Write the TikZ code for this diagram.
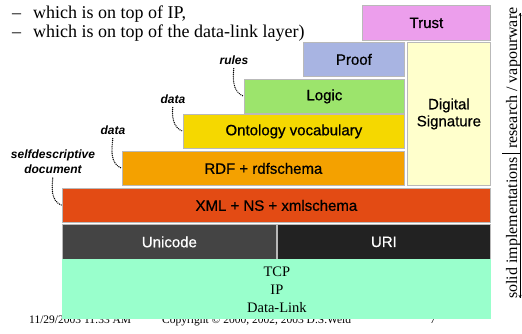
\documentclass[tikz,border=0pt]{standalone}
\usepackage{fontspec}
\setmainfont{Liberation Serif}
\newfontfamily\arialfont{Liberation Sans}
\newfontfamily\boxfont[BoldFont=Liberation Sans,BoldFeatures={FakeBold=0.6}]{Liberation Sans}
\definecolor{trustcol}{HTML}{EC9EEC}
\definecolor{proofcol}{HTML}{A8B4E2}
\definecolor{logiccol}{HTML}{9CE46C}
\definecolor{ontocol}{HTML}{F5D800}
\definecolor{rdfcol}{HTML}{F4A100}
\definecolor{xmlcol}{HTML}{E34B14}
\definecolor{unicol}{HTML}{444444}
\definecolor{uricol}{HTML}{222222}
\definecolor{netcol}{HTML}{99FFCC}
\definecolor{sigcol}{HTML}{FFFFCC}
\tikzset{layer/.style={draw=gray!55,line width=0.8pt,inner sep=0,anchor=north west,align=center,
    font=\boxfont\bfseries\fontsize{15}{17}\selectfont}}
\tikzset{tag/.style={inner sep=1pt,align=center,font=\arialfont\bfseries\itshape\fontsize{12}{15}\selectfont}}
\tikzset{leader/.style={dash pattern=on 0pt off 1.9pt,line width=1.4pt,line cap=round,shorten <=3pt}}

\begin{document}
\begin{tikzpicture}[x=1pt,y=-1pt]
    \useasboundingbox (0,0) rectangle (522,334);
    % bullet lines at the top
    \node[anchor=base west,inner sep=0,font=\fontsize{18}{18}\selectfont] (dash1) at (12,19) {--};
    \node[anchor=base west,inner sep=0,font=\fontsize{18}{18}\selectfont] (line1) at (33,19) {which is on top of IP,};
    \node[anchor=base west,inner sep=0,font=\fontsize{18}{18}\selectfont] (dash2) at (12,38) {--};
    \node[anchor=base west,inner sep=0,font=\fontsize{18}{18}\selectfont] (line2) at (33,38) {which is on top of the data-link layer)};
    % footer, partly hidden by the bottom layer
    \node[anchor=base west,inner sep=0,font=\fontsize{11.5}{12}\selectfont] (date) at (29,323) {11/29/2003 11:33 AM};
    \node[anchor=base west,inner sep=0,font=\fontsize{11.5}{12}\selectfont] (copy) at (162,323) {Copyright © 2000, 2002, 2003 D.S.Weld};
    \node[anchor=base west,inner sep=0,font=\fontsize{11.5}{12}\selectfont] (page) at (430,323) {7};
    % the layers
    \node[layer,fill=trustcol,minimum width=128pt,minimum height=35pt] (trust) at (362,5) {Trust};
    \node[layer,fill=proofcol,minimum width=101pt,minimum height=34pt] (proof) at (303,42) {Proof};
    \node[layer,fill=sigcol,minimum width=83pt,minimum height=143pt] (sig) at (407,42) {Digital\\Signature};
    \node[layer,fill=logiccol,minimum width=160pt,minimum height=34pt] (logic) at (244,79) {Logic};
    \node[layer,fill=ontocol,minimum width=221pt,minimum height=34pt] (onto) at (183,114) {Ontology vocabulary};
    \node[layer,fill=rdfcol,minimum width=282pt,minimum height=34pt] (rdf) at (122,151) {RDF + rdfschema};
    \node[layer,fill=xmlcol,minimum width=428pt,minimum height=34pt] (xml) at (62,188) {XML + NS + xmlschema};
    \node[layer,fill=unicol,text=white,minimum width=214pt,minimum height=35pt] (unicode) at (62,224) {Unicode};
    \node[layer,fill=uricol,text=white,minimum width=213pt,minimum height=35pt] (uri) at (277,224) {URI};
    \node[layer,draw=none,fill=netcol,minimum width=429pt,minimum height=60pt,
        font=\rmfamily\fontsize{14.5}{18}\selectfont] (net) at (62,259) {TCP\\IP\\Data-Link};
    % side labels
    \node[tag] (lblrules) at (234,60) {rules};
    \node[tag] (lbldata2) at (173,99) {data};
    \node[tag] (lbldata1) at (113,130) {data};
    \node[tag] (lblself) at (53,162) {selfdescriptive\\document};
    \draw[leader] (lblrules.south) to[out=-95,in=160] (logic.west);
    \draw[leader] (lbldata2.south) to[out=-95,in=160] (onto.west);
    \draw[leader] (lbldata1.south) to[out=-95,in=160] (rdf.west);
    \draw[leader] (lblself.south) to[out=-95,in=160] (xml.west);
    % maturity scale on the right
    \coordinate (scaletop) at (520,13);
    \coordinate (scalebot) at (520,298);
    \coordinate (tickl) at (502,153);
    \coordinate (tickr) at (520,153);
    \draw[-stealth] (scalebot) -- (scaletop);
    \draw[-stealth] (scaletop) -- (scalebot);
    \draw (tickl) -- (tickr);
    \node[rotate=90,anchor=base east,inner sep=0,font=\fontsize{16}{16}\selectfont] (solid) at (517,157) {solid implementations};
    \node[rotate=90,anchor=base west,inner sep=0,font=\fontsize{16}{16}\selectfont] (vapour) at (517,149) {research / vapourware};
\end{tikzpicture}
\end{document}
